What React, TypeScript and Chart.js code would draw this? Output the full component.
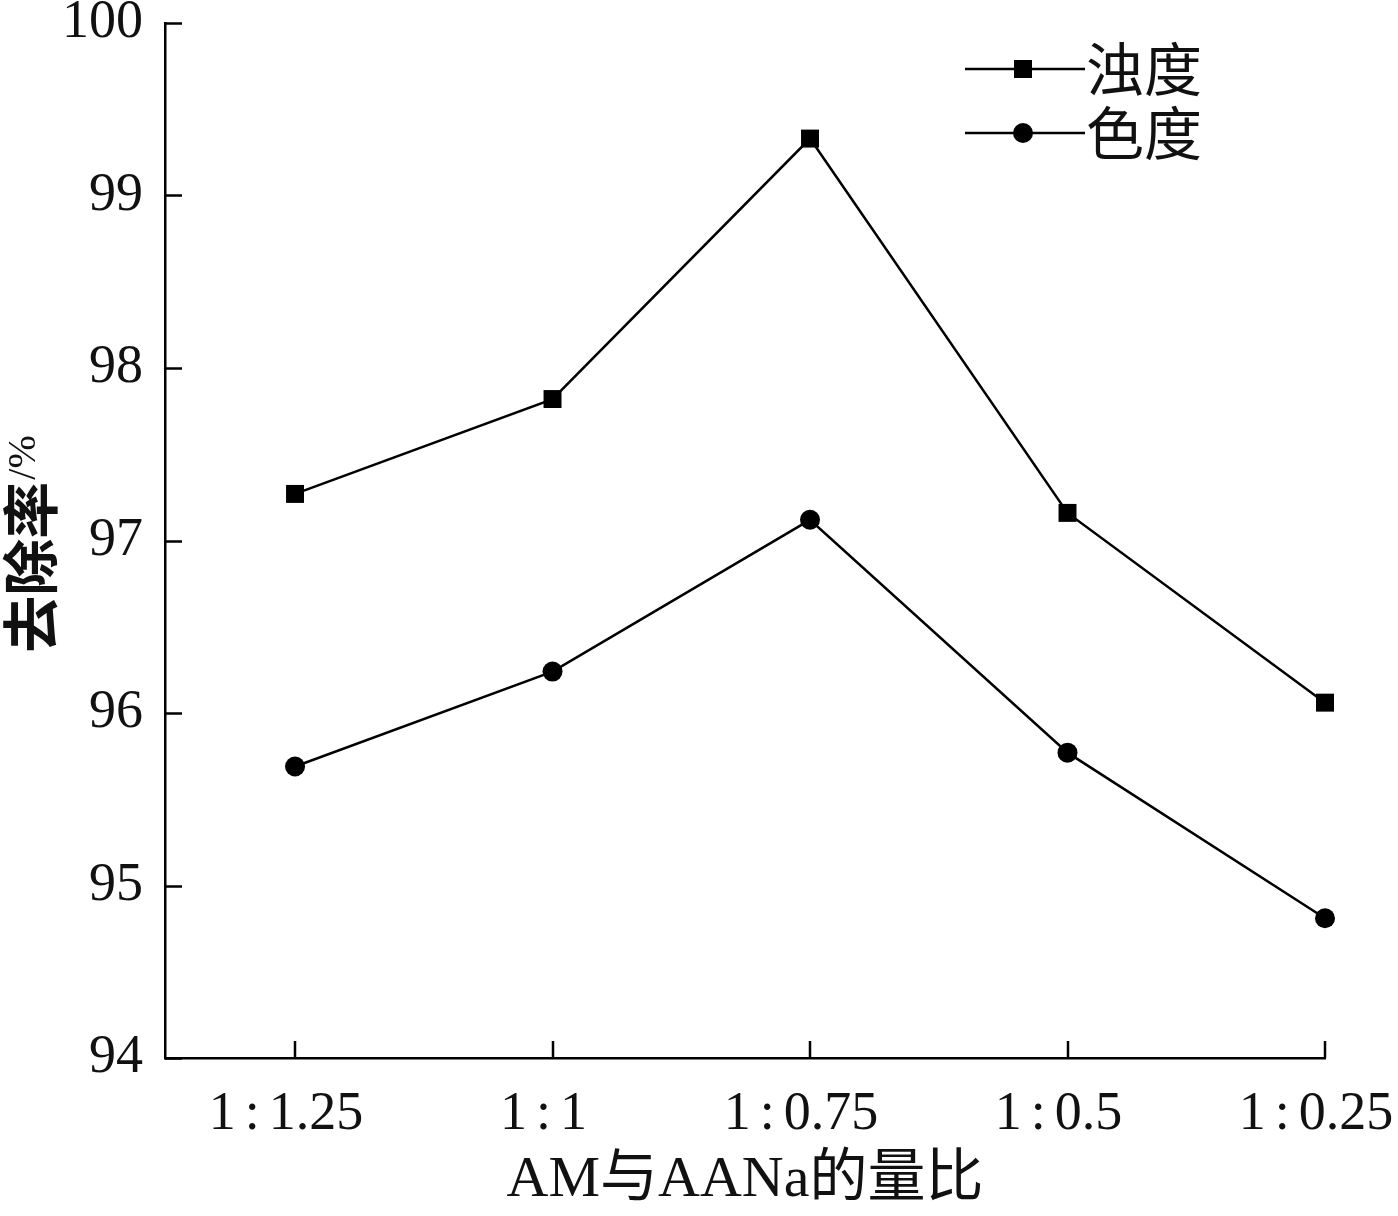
import { useEffect, useRef } from 'react'
import { Chart, registerables, Plugin } from 'chart.js'

Chart.register(...registerables)

const ratios = ['1:1.25', '1:1', '1:0.75', '1:0.5', '1:0.25']
const turbidity = [97.27, 97.82, 99.33, 97.16, 96.06]
const chroma = [95.69, 96.24, 97.12, 95.77, 94.81]
const seriesNames = ['浊度', '色度']
const yTicks = [94, 95, 96, 97, 98, 99, 100]

const SERIF = '"Liberation Serif", "Noto Sans CJK SC", serif'
const CJK = '"Noto Sans CJK SC", "Liberation Serif", serif'

// widen the colon like the original typesetting; trailing space nudges the label left
const fmtRatio = (r: string) => r.replace(':', '\u2006:\u2006') + '\u2006\u2006'

// inward tick marks, rotated y title, line+marker legend
const decor: Plugin = {
  id: 'decor',
  afterDraw(chart) {
    const { ctx, chartArea } = chart
    const xs = chart.scales.x
    const ys = chart.scales.y
    ctx.save()
    ctx.strokeStyle = '#000'
    ctx.lineWidth = 2.5
    ys.ticks.forEach((_t, i) => {
      const py = Math.round(ys.getPixelForTick(i)) + 0.5
      ctx.beginPath()
      ctx.moveTo(chartArea.left, py)
      ctx.lineTo(chartArea.left + 17, py)
      ctx.stroke()
    })
    xs.ticks.forEach((t) => {
      const px = Math.round(xs.getPixelForValue(t.value))
      ctx.beginPath()
      ctx.moveTo(px, chartArea.bottom)
      ctx.lineTo(px, chartArea.bottom - 17)
      ctx.stroke()
    })

    // y title
    ctx.save()
    ctx.translate(30, 545)
    ctx.rotate(-Math.PI / 2)
    ctx.fillStyle = '#111'
    ctx.textBaseline = 'middle'
    const mainFont = `bold 57px ${CJK}`
    const subFont = `40px ${SERIF}`
    const main = '去除率'
    ctx.font = mainFont
    const w = ctx.measureText(main).width
    ctx.font = subFont
    const w2 = ctx.measureText('/%').width
    const start = -(w + w2) / 2
    ctx.font = mainFont
    ctx.textAlign = 'left'
    ctx.fillText(main, start, 0)
    ctx.font = subFont
    ctx.fillText('/%', start + w + 2, -6)
    ctx.restore()

    // legend
    const lx = chartArea.left + 800
    const rows = [
      { name: seriesNames[0], y: 69, style: 'rect' },
      { name: seriesNames[1], y: 133, style: 'circle' },
    ]
    rows.forEach((r) => {
      ctx.lineWidth = 2.5
      ctx.beginPath()
      ctx.moveTo(lx, r.y)
      ctx.lineTo(lx + 120, r.y)
      ctx.stroke()
      ctx.fillStyle = '#000'
      const cx = lx + 58
      if (r.style === 'rect') {
        ctx.fillRect(cx - 9, r.y - 9, 18, 18)
      } else {
        ctx.beginPath()
        ctx.arc(cx, r.y, 10, 0, Math.PI * 2)
        ctx.fill()
      }
      ctx.fillStyle = '#111'
      ctx.font = `58px ${CJK}`
      ctx.textAlign = 'left'
      ctx.textBaseline = 'middle'
      ctx.fillText(r.name, lx + 121, r.y)
    })
    ctx.restore()
  },
}

export default function App() {
  const canvasRef = useRef<HTMLCanvasElement>(null)

  useEffect(() => {
    document.body.style.margin = '0'
    if (!canvasRef.current) return
    const chart = new Chart(canvasRef.current, {
      type: 'line',
      data: {
        datasets: [
          {
            label: seriesNames[0],
            data: turbidity.map((v, i) => ({ x: i, y: v })),
            borderColor: '#000',
            backgroundColor: '#000',
            borderWidth: 2.5,
            pointStyle: 'rect',
            pointRadius: 12.7,
            pointBorderWidth: 0,
            clip: false,
          },
          {
            label: seriesNames[1],
            data: chroma.map((v, i) => ({ x: i, y: v })),
            borderColor: '#000',
            backgroundColor: '#000',
            borderWidth: 2.5,
            pointStyle: 'circle',
            pointRadius: 10,
            pointBorderWidth: 0,
            clip: false,
          },
        ],
      },
      options: {
        animation: false,
        responsive: false,
        layout: { padding: { top: 23, right: 73, left: 0, bottom: 0 } },
        plugins: { legend: { display: false }, tooltip: { enabled: false } },
        scales: {
          x: {
            type: 'linear',
            min: -0.505,
            max: 4,
            afterBuildTicks: (s) => {
              s.ticks = ratios.map((_r, i) => ({ value: i }))
            },
            afterFit: (s) => {
              s.height = 158
              s.paddingLeft = 0
              s.paddingRight = 0
            },
            grid: { display: false, drawTicks: false },
            border: { color: '#000', width: 2.5 },
            ticks: {
              padding: 24,
              color: '#111',
              font: { family: SERIF, size: 54 },
              callback: (v) => (ratios[Number(v)] ? fmtRatio(ratios[Number(v)]) : ''),
            },
            title: {
              display: true,
              text: 'AM与AANa的量比',
              color: '#111',
              font: { family: SERIF, size: 58 },
              padding: { top: 0, bottom: 0 },
            },
          },
          y: {
            min: 94,
            max: 100,
            afterBuildTicks: (s) => {
              s.ticks = yTicks.map((v) => ({ value: v }))
            },
            afterFit: (s) => {
              s.width = 165
              s.paddingTop = 0
              s.paddingBottom = 0
            },
            grid: { display: false, drawTicks: false },
            border: { color: '#000', width: 2.5 },
            ticks: {
              padding: 22,
              color: '#111',
              font: { family: SERIF, size: 54 },
            },
          },
        },
      },
      plugins: [decor],
    })
    return () => chart.destroy()
  }, [])

  return (
    <div style={{ width: 1398, height: 1216 }}>
      <canvas ref={canvasRef} width={1398} height={1216} />
    </div>
  )
}
